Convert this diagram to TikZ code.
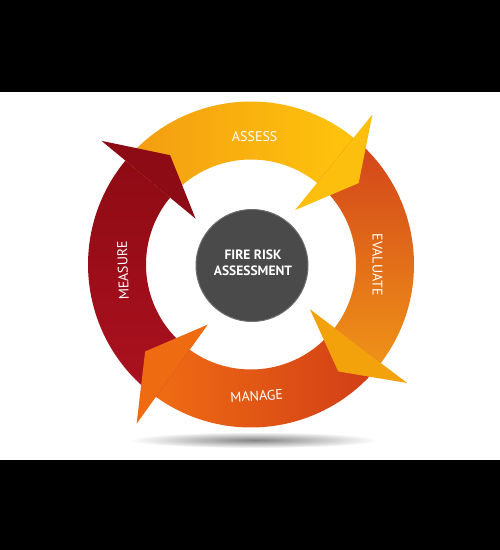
\documentclass[tikz,border=0pt]{standalone}
\usepackage{fontspec}
\setmainfont{PT Sans}
\definecolor{asTail}{HTML}{F39C12}
\definecolor{asHead}{HTML}{FFC40C}
\definecolor{asTip}{HTML}{FDBF0D}
\definecolor{evTop}{HTML}{D2421A}
\definecolor{evBot}{HTML}{EF9218}
\definecolor{evTip}{HTML}{F3A20C}
\definecolor{maRight}{HTML}{D03C16}
\definecolor{maLeft}{HTML}{EF6C14}
\definecolor{maTip}{HTML}{EE6B12}
\definecolor{meBot}{HTML}{AC111F}
\definecolor{meTop}{HTML}{8E0B14}
\definecolor{meTip}{HTML}{8D0B15}
\definecolor{core}{HTML}{4A4A4A}
\definecolor{coreEdge}{HTML}{6E6E6E}
\begin{document}
\begin{tikzpicture}[x=1pt,y=1pt,
  lbl/.style={text=white, font=\fontsize{14}{14}\selectfont, inner sep=0pt},
  ctr/.style={text=white, font=\bfseries\fontsize{13.5}{14}\selectfont, inner sep=0pt, anchor=base}]
\useasboundingbox (0,0) rectangle (500,550);
\fill[black] (0,0) rectangle (500,550);
\fill[white] (0,90) rectangle (500,458);
% shadow
\shade[inner color=black!48, outer color=white] (254,110) ellipse [x radius=124, y radius=8];
\begin{scope}[shift={(251,285.5)}]
  % bodies
  \shade[left color=asTail, right color=asHead]
    (140.4:163) arc[start angle=140.4, end angle=51, radius=163]
    -- (51:105) arc[start angle=51, end angle=140.4, radius=105] -- cycle;
  \shade[top color=evTop, bottom color=evBot]
    (51:163) arc[start angle=51, end angle=-37.2, radius=163]
    -- (-37.2:105) arc[start angle=-37.2, end angle=51, radius=105] -- cycle;
  \shade[left color=maLeft, right color=maRight]
    (-37.2:163) arc[start angle=-37.2, end angle=-125.7, radius=163]
    -- (-125.7:105) arc[start angle=-125.7, end angle=-37.2, radius=105] -- cycle;
  \shade[top color=meTop, bottom color=meBot]
    (234.3:163) arc[start angle=234.3, end angle=140.4, radius=163]
    -- (140.4:105) arc[start angle=140.4, end angle=234.3, radius=105] -- cycle;
  % heads
  \fill[meTip] (140.4:194) -- (126.5:136) -- (140.4:72) -- cycle;
  \fill[asTip] (51:193) -- (37.1:135) -- (51:70) -- cycle;
  \fill[evTip] (-37.2:196) -- (-50.8:138) -- (-37.2:74) -- cycle;
  \fill[maTip] (234.3:196) -- (219.4:137) -- (234.3:74) -- cycle;
  % centre
  \node[circle, fill=core, draw=coreEdge, line width=1pt, minimum size=112pt, inner sep=0pt] (hub) at (1,-1) {};
  \node[ctr] (fire) at (2,5.2) {FIRE RISK};
  \node[ctr] (assessment) at (2,-11.5) {ASSESSMENT};
  % labels
  \node[lbl] (assess) at (3.7,127.5) {ASSESS};
  \node[lbl, rotate=-90] (evaluate) at (126.5,-0.2) {EVALUATE};
  \node[lbl, rotate=3] (manage) at (5.7,-131.5) {MANAGE};
  \node[lbl, rotate=92] (measure) at (-128,-6) {MEASURE};
\end{scope}
\end{tikzpicture}
\end{document}
